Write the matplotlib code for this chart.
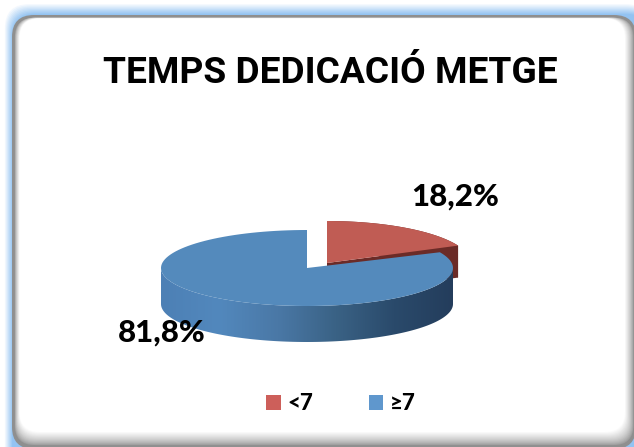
import numpy as np
from matplotlib import pyplot as plt
from matplotlib.patches import FancyBboxPatch, Polygon, Patch
from matplotlib.colors import LinearSegmentedColormap, to_rgb

title = "TEMPS DEDICACIÓ METGE"
categories = ["<7", "≥7"]
values = [18.2, 81.8]
value_labels = ["18,2%", "81,8%"]
red_top = "#c05c54"
red_side = "#6b2b27"
blue_top = "#548abc"
side_colors = ["#4d80b5", "#5288bd", "#4a78a6", "#3a6285", "#2a4a6b", "#243d5c"]


def rbox(ax, x0, y0, x1, y1, r, color, **kw):
    p = FancyBboxPatch((x0 + r, y0 + r), x1 - x0 - 2 * r, y1 - y0 - 2 * r,
                       boxstyle=f"round,pad={r},rounding_size={r}",
                       fc=color, ec="none", **kw)
    ax.add_patch(p)
    return p


def arc(cx, cy, a, b, t0, t1, n=120):
    # angle measured clockwise from the top of the ellipse
    t = np.radians(np.linspace(t0, t1, n))
    return np.column_stack([cx + a * np.sin(t), cy - b * np.cos(t)])


fig = plt.figure(figsize=(6.34, 4.47), dpi=100)
ax = fig.add_axes([0, 0, 1, 1])

# frame: blue glow, grey border, soft white inside
blue = np.array(to_rgb("#93c3f2"))
for i, f in enumerate(np.linspace(0, 1, 10)):
    c = 1 - (1 - blue) * f
    rbox(ax, 4 + i * 0.9, 3 + i * 1.2, 650, 470, 24, tuple(c))
grey_out = np.array(to_rgb("#8f8f8f"))
grey_in = np.array([1.0, 1.0, 1.0])
rbox(ax, 12, 15, 636, 449, 22, "#8f8f8f")
for f in np.linspace(0, 1, 16):
    c = grey_out + (grey_in - grey_out) * f ** 0.7
    rbox(ax, 14.5 + 5 * f, 17.5 + 1 * f, 634 - 9 * f, 446 - 14 * f, 20, tuple(c))

# pie, angles come from the values
cx, cy, a, b, depth = 307, 268, 146, 38, 36
red_angle = values[0] / sum(values) * 360
rx, ry = cx + 20, cy - 5

red_face = np.vstack([[rx, ry], arc(rx, ry, 144, 42, 0, red_angle)])
red_low = red_face + [0, 32]
ax.add_patch(Polygon(np.vstack([red_face[1:][::-1], red_low[1:]]), fc=red_side, ec="none"))
ax.add_patch(Polygon(np.vstack([red_face[0], red_face[-1], red_low[-1], red_low[0]]), fc=red_side, ec="none"))
ax.add_patch(Polygon(red_face, fc=red_top, ec="none"))

upper = arc(cx, cy, a, b, 90, 270)
lower = upper + [0, depth]
side = Polygon(np.vstack([upper, lower[::-1]]), fc="none", ec="none")
ax.add_patch(side)
cmap = LinearSegmentedColormap.from_list("side", side_colors)
grad = ax.imshow(np.linspace(0, 1, 256)[None, :], cmap=cmap, aspect="auto", zorder=1,
                 extent=(cx - a, cx + a, cy + b + depth, cy - b))
grad.set_clip_path(side)

blue_face = np.vstack([[cx, cy], arc(cx, cy, a, b, red_angle, 360)])
ax.add_patch(Polygon(blue_face, fc=blue_top, ec="none", zorder=1.1))

ax.text(330, 83, title, family="Roboto", fontweight="bold",
        fontsize=26.7, ha="center", va="baseline", color="black", zorder=3)
label_font = ["Lato", "DejaVu Sans"]
ax.text(455, 197, value_labels[0], family=label_font, fontweight=900,
        fontsize=22.5, ha="center", va="center", color="black", zorder=3)
ax.text(162, 333, value_labels[1], family=label_font, fontweight=900,
        fontsize=22.5, ha="center", va="center", color="black", zorder=3)

handles = [Patch(fc="#cd5f5a", label=categories[0]), Patch(fc="#5f97cd", label=categories[1])]
leg = ax.legend(handles=handles, ncol=2, loc="center", bbox_to_anchor=(341 / 634, 1 - 404 / 447),
                frameon=False, handlelength=0.65, handleheight=0.65, columnspacing=2.5, handletextpad=0.3,
                prop={"family": ["Lato", "DejaVu Sans"], "weight": 900, "size": 16})
leg.set_zorder(3)

ax.set_xlim(0, 634)
ax.set_ylim(447, 0)
ax.axis("off")
fig.savefig("out.png", dpi=100)
